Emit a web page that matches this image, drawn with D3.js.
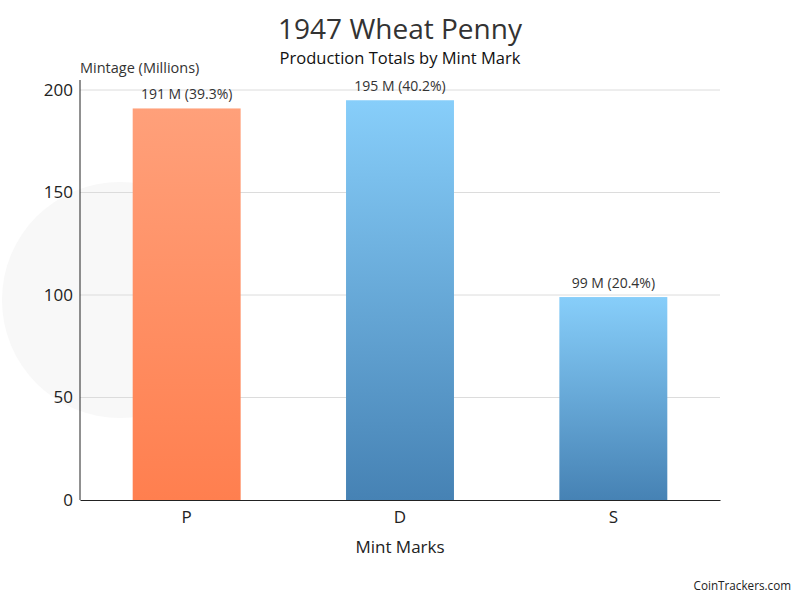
<!DOCTYPE html>
<html>
<head>
<meta charset="utf-8">
<script src="https://cdn.jsdelivr.net/npm/d3@7"></script>
<style>
  html, body { margin: 0; padding: 0; background: #fff; }
  svg { display: block; font-family: "Open Sans", "Noto Sans", sans-serif; }
</style>
</head>
<body>
<svg id="chart" width="800" height="600"></svg>
<script>
const categories = ["P", "D", "S"];
const values = [191, 195, 99];
const labels = ["191 M (39.3%)", "195 M (40.2%)", "99 M (20.4%)"];
const yTicks = [0, 50, 100, 150, 200];
const title = "1947 Wheat Penny";
const subtitle = "Production Totals by Mint Mark";
const yTitle = "Mintage (Millions)";
const xTitle = "Mint Marks";
const credit = "CoinTrackers.com";

const svg = d3.select("#chart");
const W = 800, H = 600;
const m = { left: 80, right: 80, top: 90, bottom: 100 };

// faint watermark disc
svg.append("circle").attr("cx", 120).attr("cy", 300).attr("r", 118)
  .attr("fill", "#f8f8f8");

const x = d3.scaleBand().domain(categories)
  .range([m.left, W - m.right]).paddingInner(0.494).paddingOuter(0.247);
const y = d3.scaleLinear().domain([0, 200]).range([H - m.bottom, m.top]);

// gridlines
svg.append("g").selectAll("line").data(yTicks.filter(d => d > 0)).join("line")
  .attr("x1", m.left).attr("x2", W - m.right)
  .attr("y1", d => y(d)).attr("y2", d => y(d))
  .attr("stroke", "#dcdcdc").attr("stroke-width", 1);

const defs = svg.append("defs");
const gOrange = defs.append("linearGradient").attr("id", "gOrange")
  .attr("x1", 0).attr("y1", 0).attr("x2", 0).attr("y2", 1);
gOrange.append("stop").attr("offset", "0%").attr("stop-color", "#ffa07a");
gOrange.append("stop").attr("offset", "100%").attr("stop-color", "#ff7f4f");
const gBlue = defs.append("linearGradient").attr("id", "gBlue")
  .attr("x1", 0).attr("y1", 0).attr("x2", 0).attr("y2", 1);
gBlue.append("stop").attr("offset", "0%").attr("stop-color", "#87cefa");
gBlue.append("stop").attr("offset", "100%").attr("stop-color", "#4682b4");

const data = categories.map((c, i) => ({ c, v: values[i], l: labels[i] }));

svg.append("g").selectAll("rect").data(data).join("rect")
  .attr("x", d => x(d.c)).attr("width", x.bandwidth())
  .attr("y", d => y(d.v)).attr("height", d => y(0) - y(d.v))
  .attr("fill", (d, i) => i === 0 ? "url(#gOrange)" : "url(#gBlue)");

svg.append("g").selectAll("text").data(data).join("text")
  .attr("x", d => x(d.c) + x.bandwidth() / 2)
  .attr("y", d => y(d.v) - 9)
  .attr("text-anchor", "middle").attr("font-size", 14).attr("fill", "#333")
  .text(d => d.l);

// axes
const yAxis = svg.append("g").attr("transform", `translate(${m.left},0)`)
  .call(d3.axisLeft(y).tickValues(yTicks).tickSize(0).tickPadding(7));
yAxis.select(".domain").attr("stroke", "#222").attr("d", `M0,${m.top - 10}V${H - m.bottom}`);
yAxis.selectAll("text").attr("font-size", 17).attr("fill", "#222")
  .attr("font-family", "Open Sans, sans-serif");

const xAxis = svg.append("g").attr("transform", `translate(0,${H - m.bottom})`)
  .call(d3.axisBottom(x).tickSize(0).tickPadding(11));
xAxis.select(".domain").attr("stroke", "#222");
xAxis.selectAll("text").attr("font-size", 17).attr("fill", "#222")
  .attr("font-family", "Open Sans, sans-serif");

// titles
svg.append("text").attr("x", W / 2).attr("y", 39).attr("text-anchor", "middle")
  .attr("font-size", 28).attr("fill", "#333").text(title);
svg.append("text").attr("x", W / 2).attr("y", 64).attr("text-anchor", "middle")
  .attr("font-size", 16.5).attr("fill", "#111").text(subtitle);
svg.append("text").attr("x", m.left).attr("y", 73)
  .attr("font-size", 14.5).attr("fill", "#333").text(yTitle);
svg.append("text").attr("x", W / 2).attr("y", 553).attr("text-anchor", "middle")
  .attr("font-size", 17).attr("fill", "#222").text(xTitle);
svg.append("text").attr("x", 791).attr("y", 590).attr("text-anchor", "end")
  .attr("font-size", 11.7).attr("fill", "#222").text(credit);
</script>
</body>
</html>
